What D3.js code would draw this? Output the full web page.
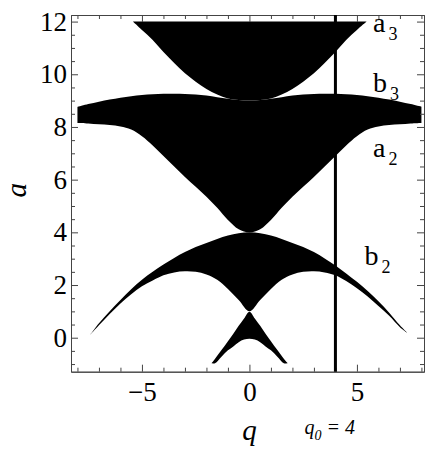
<!DOCTYPE html>
<html>
<head>
<meta charset="utf-8">
<script src="https://cdn.jsdelivr.net/npm/d3@7/dist/d3.min.js"></script>
<style>
    body { margin: 0; background: #fff; }
    svg text { font-family: "Liberation Serif", "Times New Roman", Times, "DejaVu Serif", serif; fill: #000; }
</style>
</head>
<body>
<script>
// stability regions of the Mathieu equation
// region 1: between a0 (lower) and b1 (upper)
const region1Q     = [-1.76, -1.6, -1.3, -1.0, -0.75, -0.5, -0.25, 0, 0.25, 0.5, 0.75, 1.0, 1.3, 1.6, 1.78];
const region1Upper = [-0.97, -0.8, -0.47, -0.13, 0.15, 0.45, 0.73, 0.99, 0.73, 0.45, 0.15, -0.13, -0.47, -0.8, -0.97];
const region1Lower = [-0.97, -0.97, -0.72, -0.48, -0.33, -0.17, -0.07, -0.04, -0.07, -0.17, -0.33, -0.48, -0.72, -0.97, -0.97];

// region 2: between a1 and b2
const region2Q     = [-7.42, -7, -6.5, -6, -5.5, -5, -4.5, -4, -3.5, -3, -2.5, -2, -1.5, -1, -0.5, 0,
                      0.5, 1, 1.5, 2, 2.5, 3, 3.5, 4, 4.5, 5, 5.5, 6, 6.5, 7, 7.33];
const region2Upper = [0.10, 0.55, 1.0, 1.43, 1.84, 2.2, 2.5, 2.78, 3.03, 3.25, 3.44, 3.6, 3.75, 3.88, 3.97, 4.0,
                      3.97, 3.88, 3.75, 3.6, 3.44, 3.25, 3.01, 2.74, 2.44, 2.12, 1.77, 1.38, 0.95, 0.47, 0.19];
const region2Lower = [0.10, 0.47, 0.9, 1.3, 1.65, 1.95, 2.17, 2.37, 2.48, 2.52, 2.5, 2.4, 2.2, 1.85, 1.43, 1.0,
                      1.43, 1.85, 2.2, 2.4, 2.5, 2.52, 2.48, 2.37, 2.15, 1.88, 1.56, 1.2, 0.83, 0.4, 0.19];

// region 3: between a2 and b3
const region3Q     = [-8, -7.5, -7, -6.5, -6, -5.5, -5, -4.5, -4, -3.5, -3, -2.5, -2, -1.5, -1, -0.5, 0,
                      0.5, 1, 1.5, 2, 2.5, 3, 3.5, 4, 4.5, 5, 5.5, 6, 6.5, 7, 7.5, 8];
const region3Upper = [8.76, 8.87, 8.96, 9.04, 9.11, 9.17, 9.21, 9.24, 9.26, 9.26, 9.25, 9.23, 9.19, 9.13, 9.07, 9.02, 9.0,
                      9.02, 9.07, 9.13, 9.19, 9.23, 9.25, 9.26, 9.26, 9.24, 9.21, 9.17, 9.11, 9.04, 8.96, 8.87, 8.77];
const region3Lower = [8.15, 8.13, 8.1, 8.07, 8.02, 7.9, 7.65, 7.3, 6.9, 6.5, 6.1, 5.73, 5.35, 4.93, 4.47, 4.12, 4.0,
                      4.12, 4.47, 4.93, 5.35, 5.73, 6.1, 6.5, 6.9, 7.3, 7.65, 7.9, 8.02, 8.07, 8.1, 8.13, 8.15];

// region 4: between a3 and the top of the plotted range
const region4Q     = [-5.42, -5, -4.5, -4, -3.5, -3, -2.5, -2, -1.5, -1, -0.5, 0,
                      0.5, 1, 1.5, 2, 2.5, 3, 3.5, 4, 4.5, 5, 5.45];
const region4Upper = [12, 12, 12, 12, 12, 12, 12, 12, 12, 12, 12, 12,
                      12, 12, 12, 12, 12, 12, 12, 12, 12, 12, 12];
const region4Lower = [12.0, 11.68, 11.3, 10.85, 10.43, 10.04, 9.72, 9.44, 9.23, 9.08, 9.02, 9.0,
                      9.02, 9.08, 9.23, 9.44, 9.72, 10.04, 10.43, 10.85, 11.3, 11.68, 12.0];

const qMarker = 4;

const xMajorTicks = [-5, 0, 5];
const xMinorTicks = [-8, -7, -6, -4, -3, -2, -1, 1, 2, 3, 4, 6, 7, 8];
const yMajorTicks = [0, 2, 4, 6, 8, 10, 12];
const yMinorTicks = [-1, -0.5, 0.5, 1, 1.5, 2.5, 3, 3.5, 4.5, 5, 5.5, 6.5, 7, 7.5, 8.5, 9, 9.5, 10.5, 11, 11.5];

const curveLabels = [
    { name: "a", sub: "3", q: 5.75, a: 11.6 },
    { name: "b", sub: "3", q: 5.75, a: 9.33 },
    { name: "a", sub: "2", q: 5.75, a: 6.87 },
    { name: "b", sub: "2", q: 5.35, a: 2.77 }
];

let dimensions = {
    width: 425,
    height: 452,
    margin: { top: 15, right: 1, bottom: 80.3, left: 71 }
};
dimensions.boundedWidth = dimensions.width - dimensions.margin.left - dimensions.margin.right;
dimensions.boundedHeight = dimensions.height - dimensions.margin.top - dimensions.margin.bottom;

var svg = d3.select("body")
    .append("svg")
    .attr("width", dimensions.width)
    .attr("height", dimensions.height)
    .append("g")
    .attr("transform", `translate(${dimensions.margin.left}, ${dimensions.margin.top})`);

var xScale = d3.scaleLinear()
    .domain([-8.3, 8.12])
    .range([0, dimensions.boundedWidth]);

var yScale = d3.scaleLinear()
    .domain([-1.29, 12.25])
    .range([dimensions.boundedHeight, 0]);

// black stable regions
var regions = [
    [region1Q, region1Lower, region1Upper],
    [region2Q, region2Lower, region2Upper],
    [region3Q, region3Lower, region3Upper],
    [region4Q, region4Lower, region4Upper]
];

var area = d3.area()
    .x(d => xScale(d.q))
    .y0(d => yScale(d.lo))
    .y1(d => yScale(d.hi))
    .curve(d3.curveCatmullRom.alpha(0.5));

regions.forEach(function(r) {
    var pts = r[0].map((q, i) => ({ q: q, lo: r[1][i], hi: r[2][i] }));
    svg.append("path")
        .datum(pts)
        .attr("d", area)
        .attr("fill", "#000");
});

// frame with inward ticks on all four sides
function frameAxis(axis, transform) {
    var g = svg.append("g")
        .attr("transform", transform)
        .call(axis);
    g.attr("font-family", null);
    g.select(".domain").attr("stroke", "#444");
    g.selectAll(".tick line").attr("stroke", "#444");
    return g;
}

var xBottomMajor = frameAxis(d3.axisBottom(xScale).tickValues(xMajorTicks).tickSize(-7).tickSizeOuter(0).tickPadding(10),
    `translate(0, ${dimensions.boundedHeight})`);
frameAxis(d3.axisBottom(xScale).tickValues(xMinorTicks).tickSize(-4).tickSizeOuter(0).tickFormat(""),
    `translate(0, ${dimensions.boundedHeight})`);
frameAxis(d3.axisTop(xScale).tickValues(xMajorTicks).tickSize(-7).tickSizeOuter(0).tickFormat(""), "translate(0, 0)");
frameAxis(d3.axisTop(xScale).tickValues(xMinorTicks).tickSize(-4).tickSizeOuter(0).tickFormat(""), "translate(0, 0)");

var yLeftMajor = frameAxis(d3.axisLeft(yScale).tickValues(yMajorTicks).tickSize(-7).tickSizeOuter(0).tickPadding(4),
    "translate(0, 0)");
frameAxis(d3.axisLeft(yScale).tickValues(yMinorTicks).tickSize(-4).tickSizeOuter(0).tickFormat(""), "translate(0, 0)");
frameAxis(d3.axisRight(yScale).tickValues(yMajorTicks).tickSize(-7).tickSizeOuter(0).tickFormat(""),
    `translate(${dimensions.boundedWidth}, 0)`);
frameAxis(d3.axisRight(yScale).tickValues(yMinorTicks).tickSize(-4).tickSizeOuter(0).tickFormat(""),
    `translate(${dimensions.boundedWidth}, 0)`);

xBottomMajor.selectAll("text").attr("font-size", 27);
yLeftMajor.selectAll("text").attr("font-size", 27);

// q0 = 4 marker line
svg.append("line")
    .attr("x1", xScale(qMarker))
    .attr("x2", xScale(qMarker))
    .attr("y1", 0)
    .attr("y2", dimensions.boundedHeight)
    .attr("stroke", "#000")
    .attr("stroke-width", 3);

// curve labels
curveLabels.forEach(function(d) {
    var t = svg.append("text")
        .attr("x", xScale(d.q))
        .attr("y", yScale(d.a))
        .attr("font-size", 28);
    t.append("tspan").text(d.name);
    t.append("tspan")
        .attr("dx", 3)
        .attr("dy", 8)
        .attr("font-size", 18)
        .text(d.sub);
});

// axis titles
svg.append("text")
    .attr("transform", `translate(${-45}, ${yScale(5.6)}) rotate(-90)`)
    .attr("text-anchor", "middle")
    .attr("font-style", "italic")
    .attr("font-size", 29)
    .text("a");

svg.append("text")
    .attr("x", xScale(0))
    .attr("y", dimensions.boundedHeight + 68)
    .attr("text-anchor", "middle")
    .attr("font-style", "italic")
    .attr("font-size", 29)
    .text("q");

var q0 = svg.append("text")
    .attr("x", xScale(qMarker) - 31)
    .attr("y", dimensions.boundedHeight + 62)
    .attr("font-style", "italic")
    .attr("font-size", 20);
q0.append("tspan").text("q");
q0.append("tspan").attr("dy", 6).attr("font-size", 14).text("0");
q0.append("tspan").attr("dy", -6).text(" = 4");
</script>
</body>
</html>
